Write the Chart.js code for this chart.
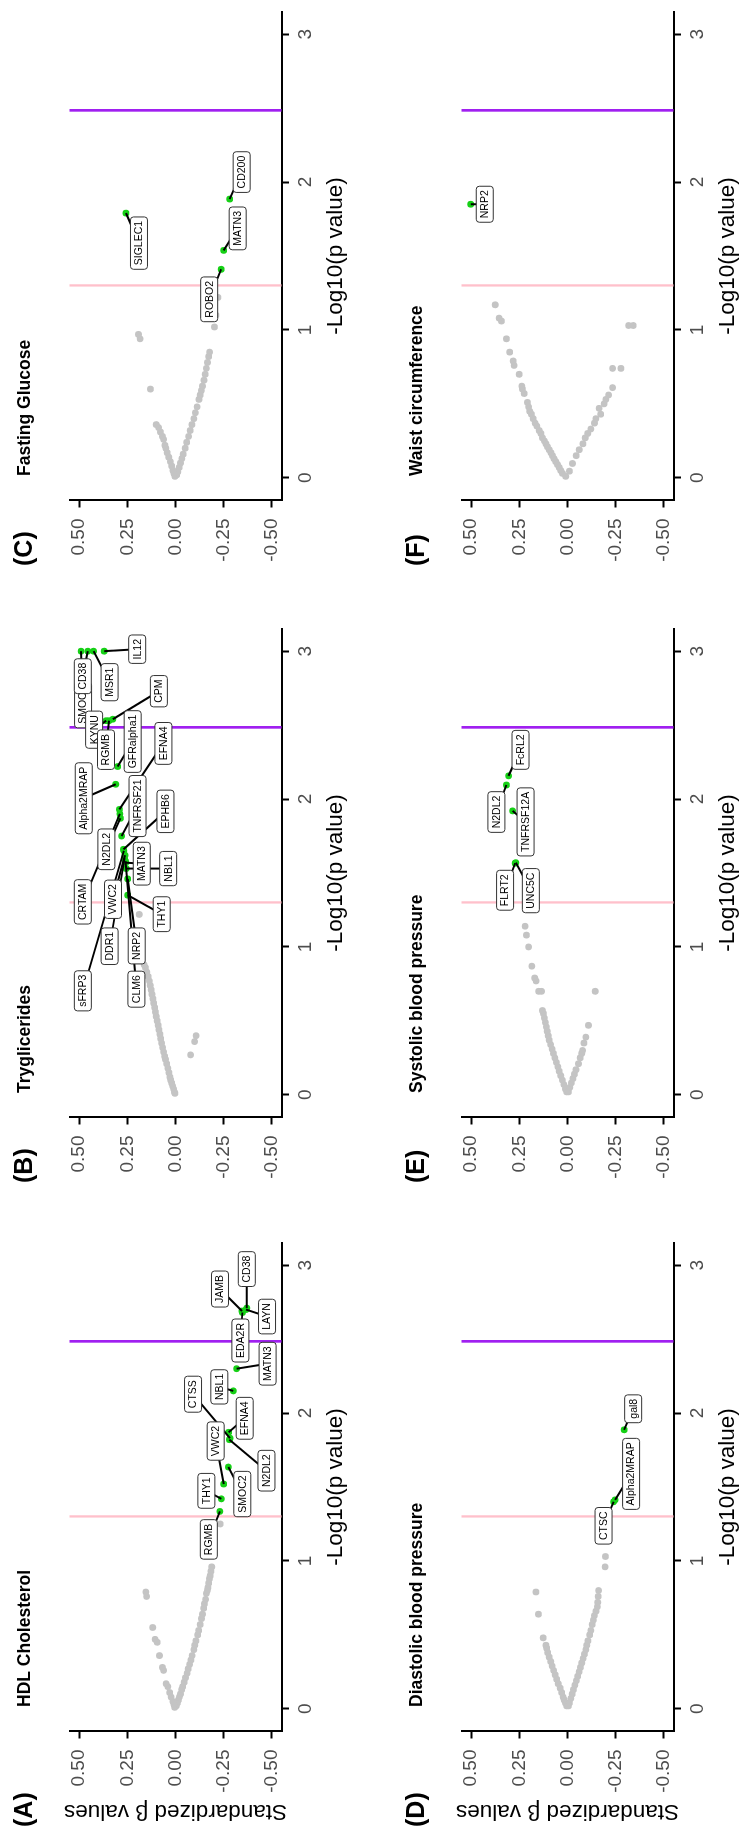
<!DOCTYPE html>
<html>
<head>
<meta charset="utf-8">
<title>Volcano plots</title>
<script src="https://cdn.jsdelivr.net/npm/chart.js@4.4.0/dist/chart.umd.min.js"></script>
<style>
  html, body { margin: 0; padding: 0; background: #fff; }
  body { width: 739px; height: 1833px; overflow: hidden; position: relative; }
  /* the figure is laid out landscape, then turned a quarter to the left */
  #figure {
    position: absolute; left: 0; top: 0;
    width: 1833px; height: 784px;
    transform-origin: 0 0;
    transform: translate(0, 1833px) rotate(-90deg);
  }
  .panel { position: absolute; width: 614px; height: 392px; }
  .panel canvas { display: block; }
</style>
</head>
<body>
<div id="figure">
  <div class="panel" style="left:0px;top:0px"><canvas id="panelA" width="614" height="392"></canvas></div>
  <div class="panel" style="left:614px;top:0px"><canvas id="panelB" width="614" height="392"></canvas></div>
  <div class="panel" style="left:1231px;top:0px"><canvas id="panelC" width="614" height="392"></canvas></div>
  <div class="panel" style="left:0px;top:392px"><canvas id="panelD" width="614" height="392"></canvas></div>
  <div class="panel" style="left:614px;top:392px"><canvas id="panelE" width="614" height="392"></canvas></div>
  <div class="panel" style="left:1231px;top:392px"><canvas id="panelF" width="614" height="392"></canvas></div>
</div>
<script>
// axis ticks and cut-offs
const xTicks = [0, 1, 2, 3];
const yTicks = [0.5, 0.25, 0, -0.25, -0.5];
const nominalCut = 1.301;  // -log10(0.05)
const strictCut = 2.485;

// (A) HDL Cholesterol
const hdlGreyP = [0.02, 0.04, 0.06, 0.08, 0.10, 0.13, 0.15, 0.18, 0.21, 0.24, 0.27, 0.30, 0.33, 0.36, 0.40, 0.43, 0.46, 0.50, 0.53, 0.57, 0.61, 0.64, 0.68, 0.71, 0.74, 0.78, 0.80, 0.82, 0.85, 0.88, 0.90, 0.93, 0.96, 1.25,
  0.01, 0.03, 0.05, 0.08, 0.11, 0.15, 0.17, 0.26, 0.28, 0.36, 0.45, 0.47, 0.55, 0.76, 0.79];
const hdlGreyB = [-0.004, -0.010, -0.015, -0.020, -0.026, -0.032, -0.037, -0.045, -0.052, -0.060, -0.066, -0.073, -0.080, -0.086, -0.095, -0.100, -0.106, -0.115, -0.120, -0.128, -0.135, -0.140, -0.146, -0.150, -0.156, -0.160, -0.165, -0.168, -0.172, -0.176, -0.180, -0.184, -0.188, -0.232,
  0.004, 0.008, 0.014, 0.023, 0.030, 0.040, 0.049, 0.062, 0.068, 0.083, 0.095, 0.106, 0.118, 0.150, 0.154];
const hdlNames = ['RGMB', 'THY1', 'VWC2', 'SMOC2', 'N2DL2', 'EFNA4', 'CTSS', 'NBL1', 'MATN3', 'EDA2R', 'JAMB', 'CD38', 'LAYN'];
const hdlSigP = [1.335, 1.42, 1.52, 1.635, 1.82, 1.87, 1.83, 2.15, 2.30, 2.68, 2.69, 2.71, 2.70];
const hdlSigB = [-0.230, -0.238, -0.250, -0.274, -0.280, -0.276, -0.283, -0.300, -0.317, -0.347, -0.345, -0.370, -0.366];

// (B) Tryglicerides
const tgGreyP = [0.01, 0.02, 0.04, 0.06, 0.08, 0.10, 0.12, 0.15, 0.18, 0.21, 0.24, 0.26, 0.29, 0.32, 0.35, 0.38, 0.41, 0.44, 0.47, 0.50, 0.53, 0.56, 0.59, 0.62, 0.65, 0.68, 0.71, 0.74, 0.77, 0.80, 0.83, 0.86, 0.88, 1.22,
  0.27, 0.36, 0.40];
const tgGreyB = [0.003, 0.006, 0.010, 0.015, 0.020, 0.025, 0.029, 0.034, 0.040, 0.046, 0.052, 0.056, 0.062, 0.067, 0.072, 0.077, 0.081, 0.086, 0.090, 0.095, 0.100, 0.104, 0.108, 0.113, 0.117, 0.122, 0.126, 0.131, 0.136, 0.142, 0.149, 0.156, 0.163, 0.188,
  -0.078, -0.099, -0.107];
const tgNames = ['SMOC2', 'CD38', 'MSR1', 'IL12', 'KYNU', 'RGMB', 'CPM', 'GFRalpha1', 'Alpha2MRAP', 'EFNA4', 'CRTAM', 'N2DL2', 'TNFRSF21', 'EPHB6', 'sFRP3', 'VWC2', 'MATN3', 'CLM6', 'NBL1', 'DDR1', 'NRP2', 'THY1'];
const tgSigP = [3.0, 3.0, 3.0, 3.0, 2.53, 2.53, 2.54, 2.22, 2.10, 1.93, 1.90, 1.87, 1.75, 1.66, 1.65, 1.62, 1.57, 1.58, 1.53, 1.60, 1.46, 1.35];
const tgSigB = [0.490, 0.455, 0.425, 0.370, 0.360, 0.345, 0.325, 0.300, 0.310, 0.291, 0.289, 0.286, 0.280, 0.270, 0.268, 0.262, 0.258, 0.260, 0.256, 0.264, 0.248, 0.248];

// (C) Fasting Glucose
const fgGreyP = [0.02, 0.04, 0.07, 0.10, 0.13, 0.16, 0.20, 0.24, 0.28, 0.32, 0.36, 0.40, 0.44, 0.48, 0.53, 0.56, 0.59, 0.62, 0.66, 0.70, 0.74, 0.78, 0.82, 0.85, 1.02, 1.10, 1.22,
  0.01, 0.03, 0.05, 0.08, 0.11, 0.14, 0.17, 0.20, 0.22, 0.26, 0.28, 0.31, 0.34, 0.36, 0.60, 0.94, 0.97];
const fgGreyB = [-0.006, -0.012, -0.019, -0.026, -0.033, -0.040, -0.050, -0.058, -0.068, -0.076, -0.085, -0.095, -0.103, -0.112, -0.122, -0.128, -0.134, -0.140, -0.148, -0.154, -0.160, -0.166, -0.172, -0.177, -0.202, -0.210, -0.220,
  0.003, 0.008, 0.013, 0.020, 0.027, 0.035, 0.043, 0.050, 0.055, 0.062, 0.068, 0.078, 0.088, 0.100, 0.130, 0.184, 0.192];
const fgNames = ['SIGLEC1', 'ROBO2', 'MATN3', 'CD200'];
const fgSigP = [1.79, 1.41, 1.538, 1.885];
const fgSigB = [0.257, -0.237, -0.250, -0.281];

// (D) Diastolic blood pressure
const dbpGreyP = [0.02, 0.04, 0.06, 0.08, 0.11, 0.14, 0.17, 0.20, 0.23, 0.26, 0.29, 0.32, 0.35, 0.38, 0.41, 0.43, 0.48, 0.64, 0.79,
  0.02, 0.04, 0.07, 0.10, 0.13, 0.16, 0.19, 0.22, 0.25, 0.28, 0.31, 0.34, 0.37, 0.40, 0.43, 0.46, 0.50, 0.53, 0.57, 0.60, 0.63, 0.66, 0.69, 0.72, 0.76, 0.80, 0.96, 1.03];
const dbpGreyB = [0.005, 0.011, 0.017, 0.023, 0.030, 0.038, 0.048, 0.056, 0.064, 0.072, 0.080, 0.087, 0.095, 0.103, 0.108, 0.112, 0.126, 0.151, 0.164,
  -0.005, -0.010, -0.017, -0.024, -0.031, -0.038, -0.046, -0.053, -0.060, -0.067, -0.074, -0.081, -0.088, -0.095, -0.100, -0.106, -0.115, -0.121, -0.128, -0.134, -0.139, -0.148, -0.155, -0.157, -0.159, -0.161, -0.195, -0.197];
const dbpNames = ['CTSC', 'Alpha2MRAP', 'gal8'];
const dbpSigP = [1.40, 1.413, 1.887];
const dbpSigB = [-0.239, -0.247, -0.294];

// (E) Systolic blood pressure
const sbpGreyP = [0.02, 0.04, 0.07, 0.10, 0.13, 0.16, 0.19, 0.22, 0.25, 0.28, 0.31, 0.34, 0.37, 0.40, 0.43, 0.46, 0.49, 0.52, 0.55, 0.57, 0.70, 0.70, 0.77, 0.79, 0.87, 1.00, 1.08, 1.14,
  0.02, 0.05, 0.08, 0.11, 0.14, 0.17, 0.21, 0.25, 0.28, 0.30, 0.35, 0.39, 0.47, 0.70];
const sbpGreyB = [0.005, 0.011, 0.019, 0.027, 0.035, 0.043, 0.050, 0.058, 0.066, 0.073, 0.080, 0.088, 0.095, 0.100, 0.105, 0.110, 0.115, 0.120, 0.125, 0.130, 0.135, 0.150, 0.163, 0.170, 0.185, 0.202, 0.213, 0.220,
  -0.005, -0.012, -0.020, -0.028, -0.036, -0.044, -0.057, -0.066, -0.074, -0.078, -0.085, -0.095, -0.109, -0.144];
const sbpNames = ['FLRT2', 'UNC5C', 'TNFRSF12A', 'N2DL2', 'FcRL2'];
const sbpSigP = [1.566, 1.57, 1.92, 2.095, 2.157];
const sbpSigB = [0.272, 0.268, 0.285, 0.317, 0.306];

// (F) Waist circumference
const waistGreyP = [0.01, 0.03, 0.05, 0.07, 0.09, 0.11, 0.13, 0.15, 0.17, 0.19, 0.21, 0.23, 0.25, 0.27, 0.30, 0.32, 0.35, 0.37, 0.40, 0.43, 0.45, 0.48, 0.51, 0.57, 0.60, 0.62, 0.70, 0.76, 0.79, 0.85, 0.94, 1.06, 1.08, 1.17,
  0.045, 0.097, 0.15, 0.19, 0.23, 0.27, 0.30, 0.33, 0.37, 0.40, 0.43, 0.47, 0.50, 0.53, 0.56, 0.61, 0.74, 0.74, 1.03, 1.03];
const waistGreyB = [0.009, 0.026, 0.035, 0.043, 0.052, 0.061, 0.070, 0.078, 0.086, 0.095, 0.104, 0.112, 0.120, 0.130, 0.138, 0.147, 0.159, 0.168, 0.178, 0.187, 0.196, 0.202, 0.208, 0.225, 0.234, 0.237, 0.251, 0.277, 0.282, 0.300, 0.317, 0.343, 0.355, 0.375,
  -0.010, -0.026, -0.045, -0.061, -0.080, -0.092, -0.105, -0.121, -0.140, -0.147, -0.172, -0.164, -0.190, -0.199, -0.213, -0.234, -0.234, -0.277, -0.317, -0.341];
const waistNames = ['NRP2'];
const waistSigP = [1.85];
const waistSigB = [0.502];

// label nudges in px from each point (landscape orientation), as ggrepel placed them
const hdlNudge = [[-28, -11], [8, -15], [43, -8], [-27, 14], [-31, 37], [14, 16], [44, -37], [4, -14], [5, 31], [-28, -2], [22, -22], [39, 0], [-7, 21]];
const tgNudge = [[-54, 2], [-25, -5], [-31, 16], [2, 33], [-9, -12], [-29, -3], [28, 46], [25, 15], [-14, -32], [66, 44], [-88, -37], [-31, -14], [30, 16], [38, 42], [-140, -41], [-44, -12], [-1, 16], [-128, 11], [0, 42], [-88, -15], [-67, 9], [-19, 34]];
const fgNudge = [[-30, 13], [-30, -12], [22, 14], [27, 12]];
const dbpNudge = [[-24, -10], [26, 16], [21, 9]];
const sbpNudge = [[-27, -10], [-28, 15], [-11, 13], [-27, -10], [26, 12]];
const waistNudge = [[0, 14]];

const FONT = '"Liberation Sans", Arial, Helvetica, sans-serif';
const GREY = '#c4c4c4';
const GREEN = '#16d016';

const panels = [
  { id: 'panelA', tag: '(A)', title: 'HDL Cholesterol', yTitle: true, greyP: hdlGreyP, greyB: hdlGreyB, names: hdlNames, sigP: hdlSigP, sigB: hdlSigB, nudge: hdlNudge },
  { id: 'panelB', tag: '(B)', title: 'Tryglicerides', yTitle: false, greyP: tgGreyP, greyB: tgGreyB, names: tgNames, sigP: tgSigP, sigB: tgSigB, nudge: tgNudge },
  { id: 'panelC', tag: '(C)', title: 'Fasting Glucose', yTitle: false, greyP: fgGreyP, greyB: fgGreyB, names: fgNames, sigP: fgSigP, sigB: fgSigB, nudge: fgNudge },
  { id: 'panelD', tag: '(D)', title: 'Diastolic blood pressure', yTitle: true, greyP: dbpGreyP, greyB: dbpGreyB, names: dbpNames, sigP: dbpSigP, sigB: dbpSigB, nudge: dbpNudge },
  { id: 'panelE', tag: '(E)', title: 'Systolic blood pressure', yTitle: false, greyP: sbpGreyP, greyB: sbpGreyB, names: sbpNames, sigP: sbpSigP, sigB: sbpSigB, nudge: sbpNudge },
  { id: 'panelF', tag: '(F)', title: 'Waist circumference', yTitle: false, greyP: waistGreyP, greyB: waistGreyB, names: waistNames, sigP: waistSigP, sigB: waistSigB, nudge: waistNudge }
];

function toPoints(ps, bs) {
  return ps.map((p, i) => ({ x: p, y: bs[i] }));
}

function roundedBox(ctx, x, y, w, h, r) {
  ctx.beginPath();
  ctx.moveTo(x + r, y);
  ctx.lineTo(x + w - r, y);
  ctx.arcTo(x + w, y, x + w, y + r, r);
  ctx.lineTo(x + w, y + h - r);
  ctx.arcTo(x + w, y + h, x + w - r, y + h, r);
  ctx.lineTo(x + r, y + h);
  ctx.arcTo(x, y + h, x, y + h - r, r);
  ctx.lineTo(x, y + r);
  ctx.arcTo(x, y, x + r, y, r);
  ctx.closePath();
}

// cut-off lines, repelled labels, panel title and tag
function makeDecor(panel) {
  return {
    id: 'decor' + panel.id,
    beforeDatasetsDraw(chart) {
      const { ctx, chartArea: a, scales: { x } } = chart;
      ctx.save();
      [[nominalCut, '#ffc0cb', 2.3], [strictCut, '#a020f0', 2.7]].forEach(([v, colour, w]) => {
        const px = x.getPixelForValue(v);
        ctx.strokeStyle = colour;
        ctx.lineWidth = w;
        ctx.beginPath();
        ctx.moveTo(px, a.top);
        ctx.lineTo(px, a.bottom);
        ctx.stroke();
      });
      ctx.restore();
    },
    afterDatasetsDraw(chart) {
      const ctx = chart.ctx;
      const pts = chart.getDatasetMeta(1).data;
      ctx.save();
      ctx.font = '10.5px ' + FONT;
      const boxes = panel.names.map((name, i) => ({
        name,
        px: pts[i].x,
        py: pts[i].y,
        cx: pts[i].x + panel.nudge[i][0],
        cy: pts[i].y + panel.nudge[i][1],
        w: ctx.measureText(name).width + 8,
        h: 17
      }));
      ctx.strokeStyle = '#000';
      ctx.lineWidth = 2;
      boxes.forEach(b => {
        ctx.beginPath();
        ctx.moveTo(b.px, b.py);
        ctx.lineTo(b.cx, b.cy);
        ctx.stroke();
      });
      ctx.textAlign = 'center';
      ctx.textBaseline = 'middle';
      boxes.forEach(b => {
        roundedBox(ctx, b.cx - b.w / 2, b.cy - b.h / 2, b.w, b.h, 3);
        ctx.fillStyle = '#fff';
        ctx.fill();
        ctx.strokeStyle = '#333';
        ctx.lineWidth = 1;
        ctx.stroke();
        ctx.fillStyle = '#000';
        ctx.fillText(b.name, b.cx, b.cy + 0.5);
      });
      ctx.restore();
    },
    afterDraw(chart) {
      const { ctx, chartArea: a } = chart;
      ctx.save();
      ctx.fillStyle = '#000';
      ctx.textBaseline = 'middle';
      ctx.textAlign = 'left';
      ctx.font = 'bold 17.5px ' + FONT;
      ctx.fillText(panel.title, a.left + 24, 25);
      ctx.font = 'bold 25px ' + FONT;
      ctx.fillText(panel.tag, a.left + (panel.yTitle ? -96 : -66), 25);
      ctx.restore();
    }
  };
}

function renderPanel(panel) {
  const ctx = document.getElementById(panel.id).getContext('2d');
  new Chart(ctx, {
    type: 'scatter',
    data: {
      datasets: [{
        data: toPoints(panel.greyP, panel.greyB),
        backgroundColor: GREY,
        borderWidth: 0,
        pointRadius: 3.4
      }, {
        data: toPoints(panel.sigP, panel.sigB),
        backgroundColor: GREEN,
        borderWidth: 0,
        pointRadius: 3.4
      }]
    },
    options: {
      responsive: false,
      animation: false,
      events: [],
      layout: { padding: { top: 69.5, right: 24, bottom: 0, left: 0 } },
      plugins: {
        legend: { display: false },
        tooltip: { enabled: false }
      },
      scales: {
        x: {
          type: 'linear',
          min: -0.15,
          max: 3.15,
          afterBuildTicks: s => { s.ticks = xTicks.map(v => ({ value: v })); },
          afterFit: s => { s.height = 110.5; },
          ticks: { color: '#4d4d4d', font: { family: FONT, size: 19 }, padding: 5, maxRotation: 0, callback: v => String(v) },
          grid: { drawOnChartArea: false, tickLength: 7.5, tickWidth: 2, tickColor: '#000' },
          border: { color: '#000', width: 2 },
          title: { display: true, text: '-Log10(p value)', color: '#000', font: { family: FONT, size: 22.5 }, padding: { top: 0, bottom: 43 } }
        },
        y: {
          type: 'linear',
          min: -0.55,
          max: 0.55,
          afterBuildTicks: s => { s.ticks = yTicks.map(v => ({ value: v })); },
          afterFit: s => { s.width = 102; },
          ticks: { color: '#4d4d4d', font: { family: FONT, size: 19 }, padding: 11, callback: v => v.toFixed(2) },
          grid: { drawOnChartArea: false, tickLength: 7.5, tickWidth: 2, tickColor: '#000' },
          border: { color: '#000', width: 2 },
          title: { display: panel.yTitle, text: 'Standardized β values', color: '#000', font: { family: FONT, size: 22.5 }, padding: { top: 8.5, bottom: 0 } }
        }
      }
    },
    plugins: [makeDecor(panel)]
  });
}

document.addEventListener('DOMContentLoaded', function() {
  panels.forEach(renderPanel);
});
</script>
</body>
</html>
